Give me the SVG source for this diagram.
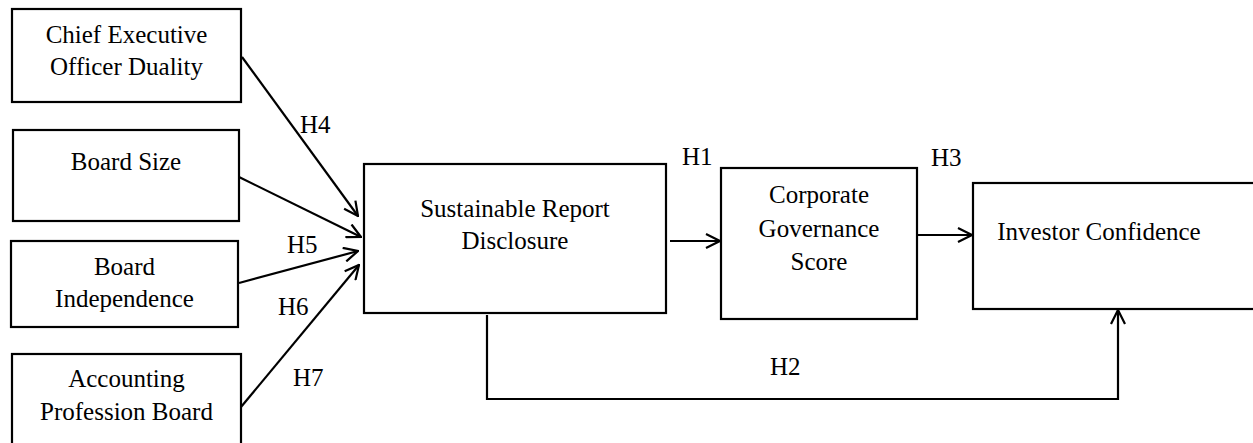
<svg xmlns="http://www.w3.org/2000/svg" width="1253" height="443" viewBox="0 0 1253 443">
<style>
.box{fill:#fff;stroke:#000;stroke-width:2.2}
.t{font-family:"Liberation Serif","Times New Roman",serif;font-size:25px;fill:#000;text-anchor:middle}
.h{font-family:"Liberation Serif","Times New Roman",serif;font-size:25px;fill:#000}
.c{fill:none;stroke:#000;stroke-width:2.2}
</style>
<defs>
<marker id="arr" viewBox="0 0 16 16" markerWidth="16" markerHeight="16" refX="15" refY="8" orient="auto" markerUnits="userSpaceOnUse">
<path d="M1,1 L15,8 L1,15" fill="none" stroke="#000" stroke-width="2.2"/>
</marker>
</defs>
<rect width="1253" height="443" fill="#fff"/>
<g id="ceo"><rect class="box" x="12" y="9" width="229" height="93"/>
<text class="t" x="126.5" y="43">Chief Executive</text><text class="t" x="126.5" y="75">Officer Duality</text></g>
<g id="boardsize"><rect class="box" x="13" y="130" width="226" height="91"/>
<text class="t" x="126" y="170">Board Size</text></g>
<g id="boardind"><rect class="box" x="11" y="241" width="227" height="86"/>
<text class="t" x="124.5" y="275">Board</text><text class="t" x="124.5" y="307">Independence</text></g>
<g id="acc"><rect class="box" x="12" y="354" width="229" height="100"/>
<text class="t" x="126.5" y="387">Accounting</text><text class="t" x="126.5" y="420">Profession Board</text></g>
<g id="srd"><rect class="box" x="364" y="164" width="302" height="149"/>
<text class="t" x="515" y="217">Sustainable Report</text><text class="t" x="515" y="249">Disclosure</text></g>
<g id="cgs"><rect class="box" x="721" y="168" width="196" height="151"/>
<text class="t" x="819" y="203">Corporate</text><text class="t" x="819" y="237">Governance</text><text class="t" x="819" y="270">Score</text></g>
<g id="ic"><rect class="box" x="973" y="183" width="300" height="126"/>
<text class="t" x="1099" y="240">Investor Confidence</text></g>
<g id="connectors">
<line class="c" x1="242" y1="57" x2="358" y2="216" marker-end="url(#arr)"/>
<line class="c" x1="239" y1="177" x2="361" y2="237" marker-end="url(#arr)"/>
<line class="c" x1="239" y1="283" x2="358" y2="251" marker-end="url(#arr)"/>
<line class="c" x1="241" y1="407" x2="359" y2="265" marker-end="url(#arr)"/>
<line class="c" x1="670" y1="241" x2="720" y2="241" marker-end="url(#arr)"/>
<line class="c" x1="917" y1="235" x2="972" y2="235" marker-end="url(#arr)"/>
<path class="c" d="M487,315 V399 H1118 V310" marker-end="url(#arr)"/>
<text class="h" x="300" y="133">H4</text>
<text class="h" x="287" y="253">H5</text>
<text class="h" x="278" y="315">H6</text>
<text class="h" x="293" y="386">H7</text>
<text class="h" x="682" y="165">H1</text>
<text class="h" x="931" y="166">H3</text>
<text class="h" x="770" y="375">H2</text>
</g>
</svg>
